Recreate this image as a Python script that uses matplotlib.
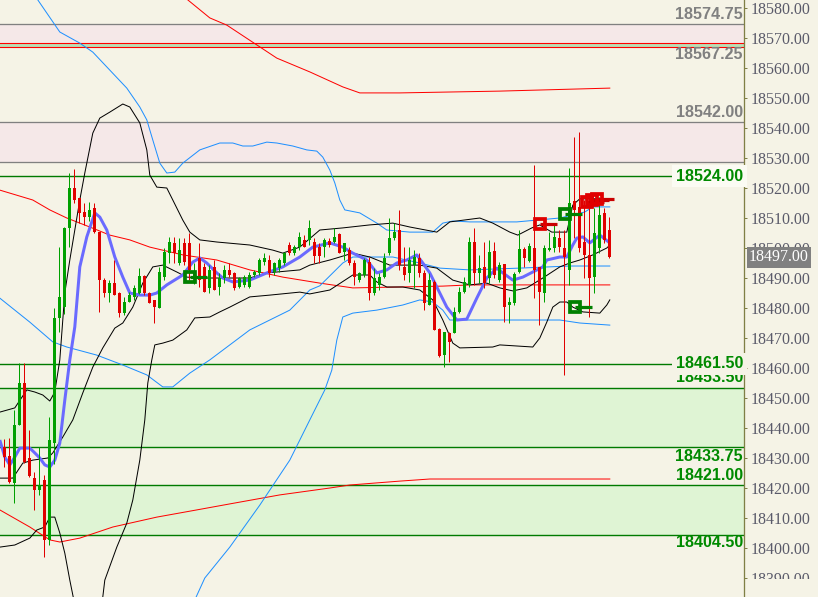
import matplotlib
matplotlib.use("Agg")
import matplotlib.pyplot as plt
import numpy as np
from matplotlib.patches import Rectangle

# ---------------- data ----------------
opens = [18433.9, 18430.8, 18421.8, 18441.1, 18455.1, 18430.0, 18423.4, 18419.4, 18422.8, 18402.8,
         18435.0, 18476.8, 18480.4, 18506.8, 18520.1, 18516.8, 18512.0, 18510.4, 18513.4, 18505.4,
         18489.4, 18485.1, 18488.4, 18485.1, 18478.4, 18482.1, 18483.8, 18485.1, 18490.8, 18485.1,
         18482.8, 18480.0, 18490.5, 18498.3, 18501.7, 18495.0, 18501.7, 18501.7, 18490.0, 18496.7,
         18493.9, 18486.7, 18493.9, 18487.2, 18490.0, 18492.8, 18491.7, 18487.2, 18487.8, 18487.2,
         18491.1, 18491.7, 18495.5, 18496.1, 18492.2, 18493.3, 18495.0, 18501.1, 18498.3, 18500.5,
         18502.8, 18502.8, 18502.0, 18500.3, 18500.5, 18502.4, 18502.2, 18504.8, 18498.9, 18499.4,
         18495.0, 18489.4, 18491.1, 18495.5, 18485.0, 18487.8, 18490.5, 18498.3, 18503.3, 18506.1,
         18493.9, 18491.7, 18494.4, 18496.7, 18491.7, 18481.1, 18488.9, 18473.0, 18464.4, 18471.7,
         18471.7, 18478.9, 18485.5, 18487.8, 18502.2, 18491.7, 18493.9, 18490.0, 18499.1, 18489.4,
         18494.7, 18481.1, 18481.7, 18492.2, 18499.8, 18495.8, 18500.0, 18493.9, 18485.0, 18499.4,
         18500.0, 18503.3, 18500.2, 18492.8, 18515.8, 18513.9, 18502.2, 18497.8, 18490.5, 18500.0,
         18511.7, 18506.1]
highs = [18436.4, 18436.7, 18446.1, 18461.8, 18461.8, 18439.4, 18425.4, 18433.8, 18424.4, 18443.8,
         18480.0, 18500.5, 18507.2, 18525.1, 18526.4, 18516.8, 18515.0, 18515.4, 18515.0, 18505.4,
         18490.0, 18489.4, 18496.0, 18485.4, 18483.8, 18485.4, 18487.8, 18493.4, 18491.1, 18485.4,
         18482.8, 18493.8, 18500.0, 18503.9, 18503.9, 18503.3, 18503.3, 18505.0, 18495.0, 18501.7,
         18495.0, 18494.4, 18496.1, 18491.7, 18494.4, 18495.0, 18492.2, 18490.5, 18491.1, 18492.2,
         18492.8, 18496.7, 18498.3, 18497.8, 18495.5, 18496.7, 18498.9, 18502.2, 18501.1, 18505.5,
         18504.4, 18509.4, 18503.3, 18501.7, 18503.3, 18503.3, 18506.7, 18505.0, 18501.7, 18500.5,
         18496.1, 18492.2, 18496.7, 18497.2, 18493.3, 18491.7, 18498.3, 18510.0, 18508.3, 18512.8,
         18500.5, 18500.5, 18499.4, 18498.3, 18492.8, 18491.7, 18489.4, 18473.3, 18472.2, 18472.2,
         18480.5, 18487.2, 18490.5, 18503.9, 18506.7, 18497.8, 18502.2, 18502.8, 18502.2, 18495.5,
         18494.7, 18483.9, 18492.2, 18506.1, 18500.5, 18501.7, 18527.8, 18493.9, 18501.1, 18505.5,
         18507.8, 18506.1, 18506.1, 18526.7, 18537.2, 18538.9, 18516.1, 18516.7, 18513.3, 18517.2,
         18513.3, 18510.5]
lows = [18427.0, 18421.7, 18415.1, 18441.1, 18428.4, 18423.8, 18412.8, 18417.8, 18397.1, 18401.1,
        18428.0, 18472.2, 18478.0, 18500.5, 18515.0, 18508.4, 18507.7, 18509.0, 18505.0, 18478.8,
        18483.8, 18482.1, 18484.4, 18477.1, 18477.8, 18482.0, 18482.8, 18484.8, 18484.4, 18481.8,
        18475.0, 18480.0, 18489.5, 18495.0, 18495.0, 18494.4, 18494.4, 18489.4, 18488.0, 18487.2,
        18485.5, 18485.0, 18486.1, 18484.4, 18488.3, 18490.5, 18486.1, 18486.7, 18487.2, 18486.7,
        18490.5, 18491.1, 18494.4, 18490.5, 18491.1, 18492.2, 18494.4, 18497.8, 18497.8, 18499.4,
        18500.5, 18501.1, 18495.0, 18495.0, 18497.2, 18500.5, 18501.7, 18498.3, 18496.1, 18494.4,
        18487.8, 18488.9, 18490.5, 18482.8, 18484.4, 18486.1, 18490.0, 18497.8, 18502.8, 18492.8,
        18489.4, 18488.9, 18486.7, 18490.5, 18479.4, 18481.1, 18472.8, 18463.9, 18460.5, 18462.2,
        18471.7, 18478.3, 18485.0, 18487.2, 18487.8, 18488.3, 18486.7, 18488.3, 18490.0, 18488.9,
        18475.5, 18475.0, 18481.1, 18491.7, 18493.9, 18495.5, 18483.3, 18474.4, 18482.2, 18499.0,
        18498.9, 18498.9, 18457.8, 18487.8, 18503.3, 18498.9, 18490.0, 18477.2, 18485.0, 18498.3,
        18501.7, 18496.7]
closes = [18430.3, 18422.0, 18441.1, 18455.1, 18428.8, 18424.0, 18419.4, 18421.1, 18402.8, 18436.1,
          18476.8, 18483.9, 18506.8, 18520.1, 18516.1, 18511.7, 18510.4, 18512.8, 18505.4, 18489.4,
          18485.1, 18488.4, 18484.4, 18478.4, 18482.1, 18484.4, 18486.8, 18490.8, 18485.1, 18481.8,
          18480.4, 18492.2, 18498.9, 18502.2, 18498.3, 18499.4, 18495.5, 18492.8, 18492.0, 18489.4,
          18485.5, 18492.8, 18486.1, 18490.0, 18492.8, 18491.1, 18486.7, 18490.0, 18490.5, 18491.1,
          18492.2, 18496.1, 18496.7, 18491.7, 18495.0, 18496.1, 18498.3, 18498.3, 18500.5, 18503.9,
          18500.5, 18506.7, 18497.4, 18497.4, 18502.8, 18501.1, 18503.9, 18498.5, 18501.7, 18495.0,
          18490.5, 18491.7, 18496.1, 18485.0, 18490.0, 18490.5, 18496.7, 18503.3, 18505.5, 18494.4,
          18491.1, 18496.1, 18497.2, 18491.7, 18481.7, 18489.4, 18472.8, 18464.1, 18472.2, 18468.9,
          18478.9, 18485.5, 18488.9, 18502.2, 18491.7, 18493.3, 18488.3, 18498.9, 18491.1, 18494.4,
          18480.5, 18482.2, 18491.4, 18499.8, 18496.7, 18500.9, 18492.8, 18485.5, 18500.0, 18500.0,
          18503.9, 18500.5, 18497.2, 18515.0, 18512.8, 18500.0, 18497.8, 18490.0, 18505.0, 18511.1,
          18502.8, 18497.0]

# indicator lines: (bar index, price)
fast_ma_x = [-0.9, 0.1, 1.1, 2.1, 3.1, 5.1, 6.1, 7.1, 8.1, 9.1, 10.1, 11.1, 12.1, 13.1, 14.1, 15.1,
             16.5, 18.1, 19.1, 20.5, 22.1, 23.7, 25.1, 27.1, 29.1, 30.5, 32.5, 35.7, 37.7, 39.1, 40.5,
             42.5, 43.7, 45.7, 49.1, 52.5, 55.7, 59.1, 61.7, 65.1, 67.7, 69.7, 72.5, 74.5, 76.5, 78.5,
             80.5, 82.5, 83.7, 85.1, 86.5, 88.5, 90.5, 92.5, 94.5, 96.5, 98.5, 99.7, 101.7, 103.7,
             105.7, 107.7, 108.5, 111.1, 112.5, 113.7, 114.5, 115.7, 117.1, 119.1, 121.1]
fast_ma_y = [18436.1, 18430.4, 18427.8, 18430.4, 18433.4, 18433.4, 18431.8, 18430.1, 18427.8, 18427.1,
             18429.4, 18435.1, 18449.4, 18462.8, 18473.8, 18493.8, 18503.8, 18511.8, 18510.4, 18506.1,
             18497.1, 18490.4, 18485.1, 18484.4, 18484.4, 18485.1, 18487.8, 18491.1, 18495.4, 18496.8,
             18495.1, 18491.8, 18490.1, 18488.8, 18489.4, 18491.8, 18493.8, 18497.1, 18500.4, 18501.8,
             18500.4, 18498.4, 18496.1, 18491.8, 18492.8, 18495.1, 18496.1, 18497.8, 18495.1, 18491.8,
             18487.1, 18480.4, 18476.1, 18476.4, 18483.4, 18490.1, 18493.4, 18491.8, 18489.4, 18490.4,
             18492.1, 18493.8, 18496.1, 18497.1, 18497.1, 18501.1, 18503.4, 18503.8, 18501.8, 18504.4,
             18501.8]

red_mid_x = [-0.9, 5.7, 9.1, 12.5, 17.1, 21.1, 25.1, 29.1, 35.7, 42.5, 49.1, 55.7, 63.1, 69.7, 87.7,
             93.1, 121.1]
red_mid_y = [18519.4, 18516.1, 18512.8, 18510.1, 18507.1, 18504.4, 18502.8, 18500.4, 18497.8, 18496.1,
             18492.8, 18490.4, 18488.4, 18486.8, 18487.4, 18487.8, 18487.8]
red_up_x = [35.1, 36.7, 41.1, 44.5, 50.5, 54.5, 61.1, 67.7, 71.1, 79.1, 99.1, 121.1]
red_up_y = [18586.0, 18582.8, 18576.8, 18574.4, 18567.8, 18563.4, 18558.8, 18553.8, 18551.8, 18551.8,
            18552.4, 18553.4]
red_lo_x = [-0.9, 5.1, 9.1, 11.1, 15.1, 21.7, 30.5, 38.5, 45.1, 55.1, 65.1, 69.1, 79.1, 85.1, 121.1]
red_lo_y = [18412.8, 18407.1, 18402.8, 18402.1, 18403.4, 18407.1, 18410.4, 18412.8, 18414.8, 18417.8,
            18420.1, 18421.1, 18422.4, 18423.1, 18423.1]

blue_up_x = [6.7, 11.1, 15.1, 17.7, 21.1, 24.5, 27.1, 28.5, 29.7, 31.1, 32.5, 34.1, 35.7, 39.1, 43.1,
             45.7, 47.7, 49.7, 52.5, 54.5, 57.7, 60.5, 62.5, 63.7, 65.1, 66.1, 67.1, 68.1, 71.1, 74.5,
             76.5, 81.1, 85.7, 87.7, 89.7, 93.1, 102.5, 111.1, 116.1, 117.7, 121.1]
blue_up_y = [18582.8, 18572.1, 18568.4, 18565.4, 18559.4, 18553.4, 18547.1, 18542.8, 18536.1, 18528.4,
             18525.1, 18525.4, 18528.4, 18532.8, 18535.1, 18535.1, 18534.1, 18534.1, 18535.4, 18535.1,
             18534.1, 18532.8, 18532.4, 18530.4, 18526.1, 18521.8, 18516.1, 18512.8, 18511.8, 18508.4,
             18506.1, 18505.4, 18505.4, 18508.4, 18509.1, 18508.8, 18508.8, 18510.1, 18512.1, 18513.8,
             18513.8]
blue_mid_x = [-0.9, 5.1, 9.7, 12.5, 18.5, 23.7, 28.5, 31.7, 33.7, 37.1, 41.1, 45.1, 49.1, 57.1, 61.1,
              63.1, 67.7, 69.7, 77.7, 83.1, 87.1, 93.1, 103.1, 113.1, 121.1]
blue_mid_y = [18483.4, 18475.4, 18468.8, 18467.1, 18464.4, 18461.1, 18457.8, 18453.8, 18453.8, 18458.4,
              18462.8, 18467.8, 18472.8, 18479.4, 18486.1, 18487.5, 18495.1, 18497.1, 18497.1, 18495.1,
              18493.4, 18492.8, 18493.4, 18494.1, 18494.1]
blue_lo_x = [38.1, 40.1, 45.1, 51.1, 57.1, 61.1, 64.1, 65.5, 66.5, 67.7, 69.7, 74.5, 79.7, 83.1, 85.7,
             87.7, 89.1, 93.1, 111.1, 115.1, 121.1]
blue_lo_y = [18382.8, 18390.1, 18400.4, 18414.4, 18429.4, 18442.8, 18452.8, 18459.4, 18469.4, 18477.1,
             18478.4, 18479.4, 18481.1, 18482.8, 18482.1, 18479.4, 18476.1, 18476.1, 18476.1, 18475.1,
             18474.4]

black_up_x = [-0.9, 2.1, 4.5, 6.1, 7.7, 9.1, 10.1, 11.1, 12.1, 13.1, 14.1, 15.1, 16.1, 17.7, 19.1,
              21.1, 23.7, 25.1, 27.1, 28.5, 29.1, 30.5, 32.5, 33.7, 35.7, 37.1, 39.1, 42.5, 49.1, 53.7,
              55.7, 59.1, 63.1, 67.7, 73.1, 77.7, 81.1, 86.5, 89.1, 95.1, 97.7, 101.1, 102.7, 105.5,
              107.1, 109.5, 112.5, 113.7, 115.1, 120.5]
black_up_y = [18445.4, 18446.8, 18452.8, 18452.1, 18451.1, 18449.1, 18452.1, 18462.8, 18485.1, 18496.1,
              18506.1, 18516.1, 18525.1, 18538.4, 18543.4, 18545.4, 18548.1, 18547.1, 18541.8, 18532.8,
              18524.4, 18520.4, 18520.1, 18516.1, 18509.4, 18505.4, 18502.8, 18502.1, 18501.1, 18499.4,
              18498.4, 18500.4, 18506.1, 18506.8, 18507.8, 18508.4, 18507.1, 18505.4, 18508.8, 18510.1,
              18508.4, 18505.4, 18504.4, 18506.8, 18507.8, 18505.4, 18505.4, 18514.4, 18516.5, 18516.5]
black_mid_x = [-0.9, 1.7, 3.7, 5.7, 8.7, 9.7, 11.7, 13.7, 15.7, 17.7, 19.7, 22.1, 23.7, 25.7, 27.7,
               29.7, 31.7, 34.5, 36.5, 39.7, 49.1, 52.5, 59.1, 61.1, 65.1, 69.7, 73.1, 77.1, 83.1, 86.5,
               89.7, 93.1, 96.5, 99.1, 101.7, 104.5, 107.7, 111.1, 113.1, 115.1, 117.7, 120.5, 121.1]
black_mid_y = [18423.4, 18423.4, 18428.4, 18429.4, 18430.1, 18431.8, 18437.1, 18442.8, 18451.8, 18460.4,
               18466.8, 18473.4, 18475.1, 18480.4, 18488.4, 18493.8, 18494.4, 18492.1, 18490.4, 18490.1,
               18490.1, 18491.8, 18492.8, 18494.4, 18496.1, 18498.4, 18497.1, 18494.4, 18494.4, 18493.4,
               18489.4, 18487.8, 18488.4, 18486.8, 18485.8, 18486.8, 18490.1, 18493.8, 18495.1, 18496.1,
               18497.8, 18500.1, 18501.1]
black_lo_x = [-0.9, 2.1, 5.1, 6.5, 8.1, 9.1, 10.1, 11.1, 12.1, 13.1, 13.9, 16.5, 18.0, 20.1, 22.5,
              24.5, 25.7, 27.1, 28.1, 28.7, 29.5, 30.1, 31.7, 33.7, 36.5, 38.1, 41.1, 43.1, 45.1, 49.1,
              53.1, 59.1, 61.1, 65.1, 69.7, 73.1, 74.5, 76.5, 79.7, 83.1, 85.7, 87.7, 89.7, 91.1, 97.7,
              99.1, 105.7, 107.1, 108.5, 109.7, 111.1, 112.5, 113.7, 115.7, 119.1, 120.5, 121.1]
black_lo_y = [18400.4, 18401.1, 18403.4, 18406.1, 18407.1, 18410.4, 18410.4, 18405.1, 18398.4, 18389.4,
              18382.8, 18360.0, 18360.0, 18389.4, 18400.4, 18408.4, 18416.1, 18429.4, 18442.8, 18455.1,
              18462.8, 18467.8, 18468.4, 18469.4, 18472.8, 18476.8, 18477.1, 18478.8, 18480.4, 18483.8,
              18484.4, 18485.4, 18484.8, 18486.1, 18491.1, 18491.1, 18488.8, 18487.1, 18487.1, 18486.1,
              18482.8, 18476.1, 18468.4, 18466.8, 18467.1, 18467.8, 18467.1, 18470.1, 18475.4, 18480.4,
              18482.1, 18482.1, 18480.4, 18478.8, 18478.4, 18481.1, 18482.8]

# signal markers
sig_x = [37.1, 107.1, 112.1, 114.1, 116.6, 117.6, 118.6]
sig_y = [18490.4, 18508.1, 18511.6, 18480.3, 18515.5, 18516.2, 18516.5]
sig_kind = ["buy", "sell", "buy", "buy", "sell", "sell", "sell"]

# price levels / zones
grey_levels = [18574.75, 18542.00, 18528.75]
red_levels = [18568.30, 18567.00]
green_levels = [18524.00, 18461.50, 18453.50, 18433.75, 18421.00, 18404.50]
pink_zones = [(18568.30, 18574.75), (18528.75, 18542.00)]
mint_zone = (18567.00, 18568.30)
green_zones = [(18433.75, 18453.50), (18404.50, 18421.00)]
label_values = [18574.75, 18567.25, 18542.00, 18524.00, 18453.50, 18461.50, 18433.75, 18421.00, 18404.50]
label_kind = ["grey", "grey", "grey", "green", "green", "green", "green", "green", "green"]

y_ticks = list(range(18390, 18581, 10))

# ---------------- style ----------------
BG = "#f5f3e6"
GREEN = "#00a000"
RED = "#e00000"
LVL_GREEN = "#008a00"
GREY = "#808080"
OLIVE = "#7f7f45"
PX = 0.72  # one pixel in points at dpi 100

# label offsets in pixels (positive = up)
label_offsets = [10, -8.4, 10, 0, 10, 0, -9, 10, -8]
label_boxes = [None, None, None, "#fbfbf3", None, BG, None, None, None]

fig = plt.figure(figsize=(8.18, 5.97), dpi=100, facecolor=BG)
ax = fig.add_axes([0, 0, 744 / 818, 1])
ax.set_facecolor(BG)
ax.set_xlim(-0.86, 147.94)
ax.set_ylim(18383.77, 18582.77)

for s in ["top", "left", "bottom"]:
    ax.spines[s].set_visible(False)
ax.spines["right"].set_color(OLIVE)
ax.spines["right"].set_linewidth(1.3 * PX)
ax.set_xticks([])
ax.yaxis.tick_right()
ax.set_yticks(y_ticks)
ax.set_yticklabels([f"{v:.2f}" for v in y_ticks], family="Liberation Serif", fontsize=11.5,
                   color="#5a5a6a")
ax.tick_params(axis="y", direction="out", length=3 * PX, width=PX, color=OLIVE, pad=2.5)

# zones
for lo, hi in pink_zones:
    ax.axhspan(lo, hi, color="#f5e8e8", lw=0, zorder=0)
ax.axhspan(*mint_zone, color="#b9dfb6", lw=0, zorder=0)
for lo, hi in green_zones:
    ax.axhspan(lo, hi, color="#dff4d4", lw=0, zorder=0)

for v in grey_levels:
    ax.axhline(v, color=GREY, lw=1.3 * PX, zorder=1)
for v in red_levels:
    ax.axhline(v, color="#ff0000", lw=1.1 * PX, zorder=1)
for v in green_levels:
    ax.axhline(v, color="#007a00", lw=1.4 * PX, zorder=1)

# indicator lines
thin = 1.0 * PX
ax.plot(red_mid_x, red_mid_y, color="#ff0000", lw=thin, zorder=2)
ax.plot(red_up_x, red_up_y, color="#ff0000", lw=thin, zorder=2)
ax.plot(red_lo_x, red_lo_y, color="#ff0000", lw=thin, zorder=2)
ax.plot(blue_up_x, blue_up_y, color="#1e8fff", lw=thin, zorder=2)
ax.plot(blue_mid_x, blue_mid_y, color="#1e8fff", lw=thin, zorder=2)
ax.plot(blue_lo_x, blue_lo_y, color="#1e8fff", lw=thin, zorder=2)
ax.plot(black_up_x, black_up_y, color="black", lw=thin, zorder=2)
ax.plot(black_mid_x, black_mid_y, color="black", lw=thin, zorder=2)
ax.plot(black_lo_x, black_lo_y, color="black", lw=thin, zorder=2)
ax.plot(fast_ma_x, fast_ma_y, color="#6a6aff", lw=3 * PX, zorder=3, solid_capstyle="butt")

# candles
o = np.array(opens); h = np.array(highs); l = np.array(lows); c = np.array(closes)
idx = np.arange(len(o))
cols = np.where(c >= o, GREEN, RED)
ax.vlines(idx, l, h, colors=cols, lw=1.0 * PX, zorder=4)
body_lo = np.minimum(o, c)
body_h = np.maximum(np.abs(c - o), 0.4)
ax.bar(idx, body_h, bottom=body_lo, width=0.62, color=cols, lw=0, zorder=4)

# signal markers
for x, y, k in zip(sig_x, sig_y, sig_kind):
    col = "#008000" if k == "buy" else "#e00000"
    dcol = "#008000" if k == "buy" else "#c80000"
    ax.plot([x, x + 3.4], [y, y], color=dcol, lw=3.2 * PX, zorder=5, solid_capstyle="butt")
    ax.plot([x], [y], marker="s", ms=7.6, mfc="none", mec=col, mew=2.7, zorder=6)

# level labels
ytr = ax.get_yaxis_transform()
for v, kind, off, box in zip(label_values, label_kind, label_offsets, label_boxes):
    kw = {}
    if box is not None:
        kw["bbox"] = dict(boxstyle="square,pad=0.22", fc=box, ec="none")
    ax.annotate(f"{v:.2f}", xy=(743 / 744, v), xycoords=ytr,
                xytext=(0, off * PX), textcoords="offset points",
                ha="right", va="center", fontsize=11.6, fontweight="bold",
                family="Liberation Sans",
                color=GREY if kind == "grey" else LVL_GREEN, zorder=8, annotation_clip=False, **kw)

# last price box
ax.annotate(f"{closes[-1]:.2f}", xy=(1, closes[-1]), xycoords=ytr,
            xytext=(5 * PX, 0), textcoords="offset points", ha="left", va="center",
            fontsize=11.5, family="Liberation Serif", color="white",
            bbox=dict(boxstyle="square,pad=0.15", fc="#808080", ec="none"),
            zorder=10, annotation_clip=False)

# the price scale is cut at the bottom edge of the chart pane
fig.patches.append(Rectangle((747 / 818, 0), 1, 18 / 597, transform=fig.transFigure,
                             facecolor=BG, edgecolor="none", zorder=20))

fig.savefig("out.png", dpi=100, facecolor=BG)
